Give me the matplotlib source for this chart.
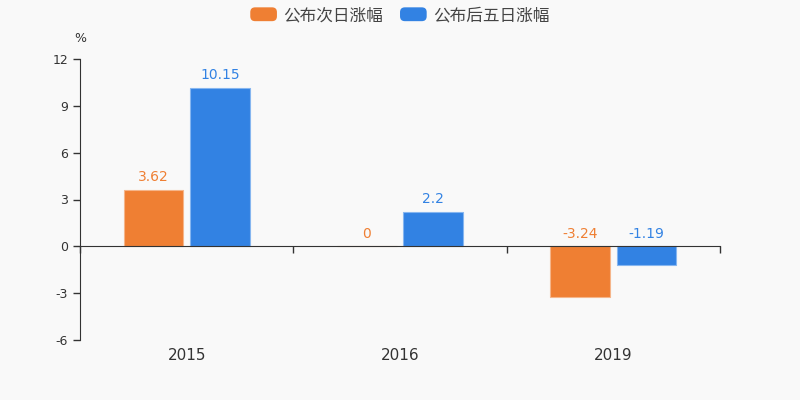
import numpy as np
import matplotlib
matplotlib.use('Agg')
import matplotlib.pyplot as plt
from matplotlib.patches import FancyBboxPatch, Rectangle
from matplotlib.legend_handler import HandlerPatch
from matplotlib.transforms import blended_transform_factory

plt.rcParams['font.family'] = ['DejaVu Sans', 'Noto Sans CJK SC']
plt.rcParams['axes.unicode_minus'] = False

# 数据
years = ['2015', '2016', '2019']
next_day = [3.62, 0, -3.24]
five_day = [10.15, 2.2, -1.19]
series_names = ['公布次日涨幅', '公布后五日涨幅']
yticks = [-6, -3, 0, 3, 6, 9, 12]

c_orange = '#ef7f33'
c_blue = '#3282e3'
bg = '#f9f9f9'


# 圆角图例
class RoundHandler(HandlerPatch):
    def create_artists(self, legend, orig_handle, xdescent, ydescent, width, height, fontsize, trans):
        p = FancyBboxPatch((-xdescent, -ydescent), width, height,
                           boxstyle='round,pad=0,rounding_size=%f' % (height * 0.35),
                           facecolor=orig_handle.get_facecolor(), edgecolor='none', transform=trans)
        return [p]


fig = plt.figure(figsize=(8, 4), dpi=100, facecolor=bg)
ax = fig.add_axes([0.1, 0.15, 0.8, 0.7025], facecolor=bg)

x = np.arange(len(years))
w = 0.28
off = 0.156
b1 = ax.bar(x - off, next_day, w, color=c_orange, edgecolor='#f5b58a', linewidth=0.8)
b2 = ax.bar(x + off, five_day, w, color=c_blue, edgecolor='#86b6f0', linewidth=0.8)

# 数值标签
for bars, vals, col in [(b1, next_day, c_orange), (b2, five_day, c_blue)]:
    for rect, v in zip(bars, vals):
        ax.annotate('{:g}'.format(v), (rect.get_x() + rect.get_width() / 2, max(v, 0)),
                    xytext=(0, 4), textcoords='offset points', ha='center', va='bottom',
                    color=col, fontsize=10)

ax.set_xlim(-0.5, len(years) - 0.5)
ax.set_ylim(-6, 12)
ax.set_yticks(yticks)
ax.tick_params(axis='y', colors='#333333', labelsize=9, length=5, width=1)

# x轴在0处
ax.spines['bottom'].set_position(('data', 0))
ax.spines['bottom'].set_color('#333333')
ax.spines['left'].set_color('#333333')
ax.spines['top'].set_visible(False)
ax.spines['right'].set_visible(False)
ax.set_xticks(np.arange(len(years) + 1) - 0.5)
ax.set_xticklabels([])
ax.tick_params(axis='x', colors='#333333', length=5, width=1)

trans = blended_transform_factory(ax.transData, ax.transAxes)
for i, yr in enumerate(years):
    ax.text(i, -0.03, yr, transform=trans, ha='center', va='top', fontsize=11, color='#333333')

ax.text(0, 1.05, '%', transform=ax.transAxes, ha='center', va='bottom', fontsize=9, color='#333333')

h1 = Rectangle((0, 0), 1, 1, facecolor=c_orange)
h2 = Rectangle((0, 0), 1, 1, facecolor=c_blue)
leg = fig.legend(handles=[h1, h2], labels=series_names, loc='upper center', bbox_to_anchor=(0.5, 1.02),
                 ncol=2, frameon=False, prop={'family': ['Noto Sans CJK SC'], 'size': 12},
                 handlelength=1.6, handleheight=0.9, columnspacing=1.0, handletextpad=0.4,
                 handler_map={Rectangle: RoundHandler()})
for t in leg.get_texts():
    t.set_color('#444444')

fig.savefig('out.png', dpi=100, facecolor=bg)
